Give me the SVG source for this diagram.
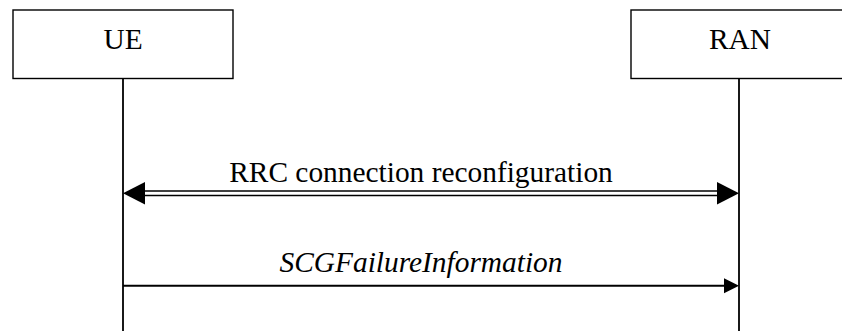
<svg xmlns="http://www.w3.org/2000/svg" width="842" height="331" viewBox="0 0 842 331">
<style>
.box{fill:#fff;stroke:#000;stroke-width:1.4}
.life{stroke:#000;stroke-width:1.8;fill:none}
.msg{stroke:#000;stroke-width:1.6;fill:none}
.lbl{font-family:"Liberation Serif","Times New Roman",serif;font-size:29.4px;fill:#000;text-anchor:middle}
.it{font-style:italic}
.head{fill:#000;stroke:none}
</style>
<rect width="842" height="331" fill="#fff"/>
<g id="UE">
<rect class="box" x="13" y="10" width="220" height="68.5"/>
<text class="lbl" x="123" y="49">UE</text>
</g>
<g id="RAN">
<rect class="box" x="631" y="10" width="230" height="68.5"/>
<text class="lbl" x="740" y="49">RAN</text>
</g>
<g id="connectors">
<line class="life" x1="123" y1="78.5" x2="123" y2="331"/>
<line class="life" x1="739" y1="78.5" x2="739" y2="331"/>
<line class="msg" x1="140" y1="191" x2="722" y2="191"/>
<line class="msg" x1="140" y1="195.5" x2="722" y2="195.5"/>
<polygon class="head" points="123,193.2 145,182 145,204.4"/>
<polygon class="head" points="739,193.2 717,182 717,204.4"/>
<text class="lbl" x="421" y="182">RRC connection reconfiguration</text>
<line class="msg" x1="123" y1="285.7" x2="726" y2="285.7" style="stroke-width:2"/>
<polygon class="head" points="739,285.7 724,278.2 724,293.2"/>
<text class="lbl it" x="421" y="272">SCGFailureInformation</text>
</g>
</svg>
